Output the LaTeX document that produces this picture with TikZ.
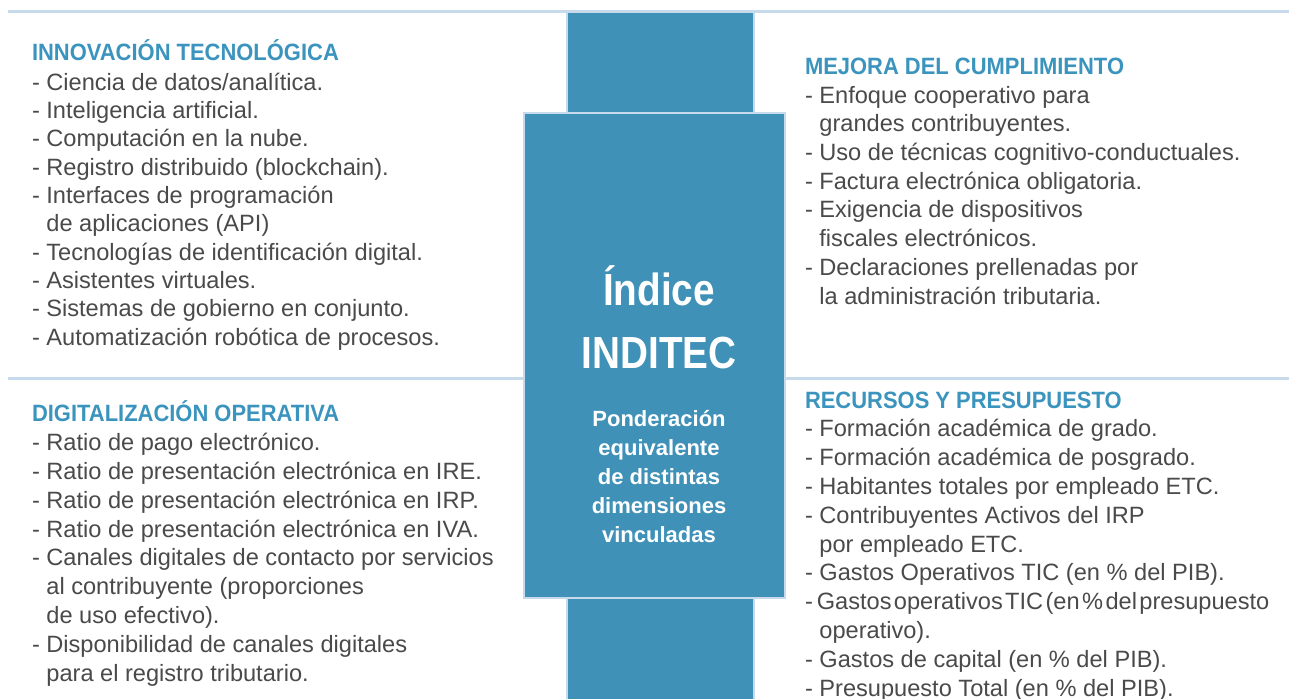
\documentclass[tikz,border=0pt]{standalone}
\usepackage{fontspec}
\setmainfont{Liberation Sans}
\newfontfamily\headfont{Liberation Sans}[FakeStretch=0.93]
\newfontfamily\bigfont{Liberation Sans}[FakeStretch=0.86]
\definecolor{boxblue}{HTML}{3F91B8}
\definecolor{headblue}{HTML}{3B94BD}
\definecolor{linecol}{HTML}{C6DAEB}
\definecolor{textgrey}{HTML}{4A4A4A}
\newcommand{\hd}[1]{{\headfont\bfseries\color{headblue}#1}}
\newcommand{\ind}{\phantom{- }}
\begin{document}
\begin{tikzpicture}[x=1pt,y=-1pt,
  every node/.style={inner sep=0pt, outer sep=0pt},
  sepline/.style={draw=linecol, line width=3pt},
  bar/.style={draw=linecol, line width=2pt, fill=boxblue},
  body/.style={anchor=base west, align=left, text=textgrey, font=\fontsize{23.6}{28.6}\selectfont},
  bigtxt/.style={text=white, anchor=base, font=\bigfont\bfseries\fontsize{45}{54}\selectfont}]
\useasboundingbox (0,0) rectangle (1289,698);
\clip (0,0) rectangle (1289,698);
\fill[white] (0,0) rectangle (1289,698);
% separator lines
\coordinate (tl) at (8,12);
\coordinate (tr) at (1289,12);
\coordinate (ml) at (8,378);
\coordinate (mr) at (1289,378);
\draw[sepline] (tl) -- (tr);
% central bars and box
\node[bar, minimum width=187, minimum height=101] (topbar) at (660.5,62.5) {};
\node[bar, minimum width=187, minimum height=110] (botbar) at (660.5,653) {};
\node[bar, minimum width=261, minimum height=485] (main) at (654.5,355.5) {};
\draw[sepline] (ml) -- (main.west |- ml);
\draw[sepline] (main.east |- mr) -- (mr);
% central text
\node[bigtxt] (indice) at (659,305) {Índice};
\node[bigtxt] (inditec) at (659,368) {INDITEC};
\node[text=white, anchor=base, align=center, font=\bfseries\fontsize{22}{29}\selectfont] (pond) at (659,542.7)
  {Ponderación\\equivalente\\de distintas\\dimensiones\\vinculadas};
% quadrants (anchored at the baseline of the last line)
\node[body, font=\fontsize{23.6}{28.33}\selectfont] (innov) at (32,345) {\hd{INNOVACIÓN TECNOLÓGICA}\\[1.5pt]
- Ciencia de datos/analítica.\\
- Inteligencia artificial.\\
- Computación en la nube.\\
- Registro distribuido (blockchain).\\
- Interfaces de programación\\
\ind de aplicaciones (API)\\
- Tecnologías de identificación digital.\\
- Asistentes virtuales.\\
- Sistemas de gobierno en conjunto.\\
- Automatización robótica de procesos.};
\node[body, font=\fontsize{23.6}{28.8}\selectfont] (digit) at (32,681) {\hd{DIGITALIZACIÓN OPERATIVA}\\
- Ratio de pago electrónico.\\
- Ratio de presentación electrónica en IRE.\\
- Ratio de presentación electrónica en IRP.\\
- Ratio de presentación electrónica en IVA.\\
- Canales digitales de contacto por servicios\\
\ind al contribuyente (proporciones\\
\ind de uso efectivo).\\
- Disponibilidad de canales digitales\\
\ind para el registro tributario.};
\node[body, font=\fontsize{23.6}{28.7}\selectfont] (mejora) at (805,304) {\hd{MEJORA DEL CUMPLIMIENTO}\\
- Enfoque cooperativo para\\
\ind grandes contribuyentes.\\
- Uso de técnicas cognitivo-conductuales.\\
- Factura electrónica obligatoria.\\
- Exigencia de dispositivos\\
\ind fiscales electrónicos.\\
- Declaraciones prellenadas por\\
\ind la administración tributaria.};
\node[body, font=\fontsize{23.6}{28.8}\selectfont] (recur) at (805,696) {\hd{RECURSOS Y PRESUPUESTO}\\
- Formación académica de grado.\\
- Formación académica de posgrado.\\
- Habitantes totales por empleado ETC.\\
- Contribuyentes Activos del IRP\\
\ind por empleado ETC.\\
- Gastos Operativos TIC (en \% del PIB).\\
{\spaceskip=2.4pt\relax -\,Gastos operativos TIC (en \% del presupuesto}\\
\ind operativo).\\
- Gastos de capital (en \% del PIB).\\
- Presupuesto Total (en \% del PIB).};
\end{tikzpicture}
\end{document}
